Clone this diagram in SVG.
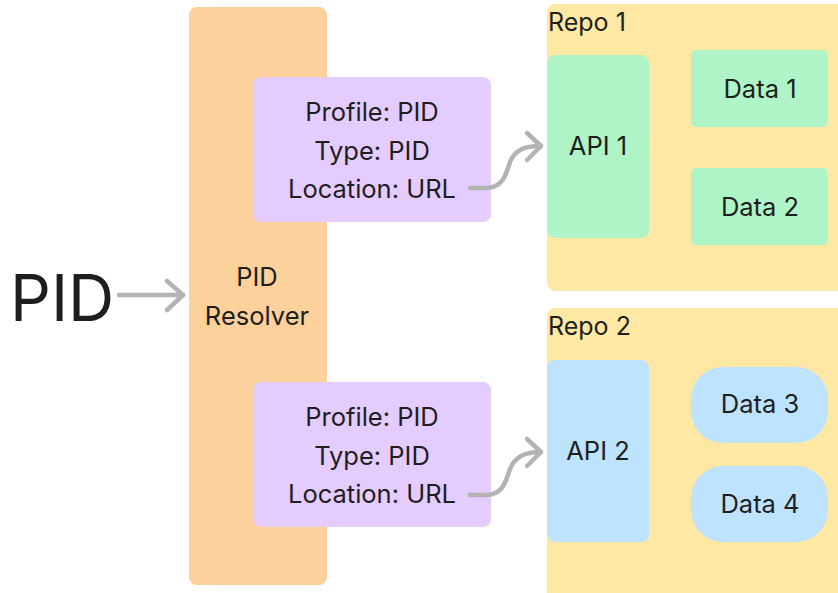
<svg xmlns="http://www.w3.org/2000/svg" width="838" height="593" viewBox="0 0 838 593">
  <defs>
    <style>
      text { font-family: Inter, "Noto Sans", "Liberation Sans", sans-serif; fill: #1e1e1e; }
      .lbl { font-size: 25.5px; text-anchor: middle; }
      .repo-title { font-size: 25px; }
      .big { font-size: 64px; }
      .repo { fill: #ffe8a3; }
      .resolver { fill: #fcd19c; }
      .record { fill: #e4ccff; }
      .green { fill: #aff4c6; }
      .blue { fill: #bde3ff; }
      .conn { fill: none; stroke: #b3b3b3; stroke-width: 4.5; stroke-linecap: round; stroke-linejoin: round; }
    </style>
  </defs>
  <rect width="838" height="593" fill="#ffffff"/>

  <g id="pid-input">
    <text class="big" x="10" y="321">PID</text>
  </g>

  <g id="resolver">
    <rect class="resolver" x="189" y="7" width="138" height="578" rx="8"/>
    <text class="lbl" x="257" y="286">PID</text>
    <text class="lbl" x="257" y="325">Resolver</text>
  </g>

  <g id="record-1">
    <rect class="record" x="253" y="77" width="238" height="145" rx="8"/>
    <text class="lbl" x="372" y="121">Profile: PID</text>
    <text class="lbl" x="372" y="160">Type: PID</text>
    <text class="lbl" x="372" y="198">Location: URL</text>
  </g>

  <g id="record-2">
    <rect class="record" x="253" y="382" width="238" height="145" rx="8"/>
    <text class="lbl" x="372" y="426">Profile: PID</text>
    <text class="lbl" x="372" y="465">Type: PID</text>
    <text class="lbl" x="372" y="503">Location: URL</text>
  </g>

  <g id="repo-1">
    <rect class="repo" x="547" y="4" width="300" height="287" rx="8"/>
    <text class="repo-title" x="548" y="31">Repo 1</text>
  </g>
  <g id="api-1">
    <rect class="green" x="547" y="55" width="102" height="183" rx="8"/>
    <text class="lbl" x="598" y="155">API 1</text>
  </g>
  <g id="data-1">
    <rect class="green" x="691" y="50" width="137" height="77" rx="5"/>
    <text class="lbl" x="760" y="98">Data 1</text>
  </g>
  <g id="data-2">
    <rect class="green" x="691" y="168" width="137" height="77" rx="5"/>
    <text class="lbl" x="760" y="216">Data 2</text>
  </g>

  <g id="repo-2">
    <rect class="repo" x="547" y="308" width="300" height="295" rx="8"/>
    <text class="repo-title" x="548" y="335">Repo 2</text>
  </g>
  <g id="api-2">
    <rect class="blue" x="547" y="360" width="102" height="182" rx="8"/>
    <text class="lbl" x="598" y="460">API 2</text>
  </g>
  <g id="data-3">
    <rect class="blue" x="691" y="367" width="137" height="76" rx="32"/>
    <text class="lbl" x="760" y="413">Data 3</text>
  </g>
  <g id="data-4">
    <rect class="blue" x="691" y="466" width="137" height="76" rx="32"/>
    <text class="lbl" x="760" y="513">Data 4</text>
  </g>

  <g id="connectors">
    <!-- PID into resolver -->
    <path class="conn" d="M119,295 L183,295"/>
    <path class="conn" d="M167,281 L183,295 L167,310"/>
    <!-- record 1 to API 1 -->
    <path class="conn" d="M470,188 L486,188 C503,188 506,174 510,162 C515,150 524,146 541,146"/>
    <path class="conn" d="M527,133 L541,146 L527,160"/>
    <!-- record 2 to API 2 -->
    <path class="conn" d="M470,495 L486,495 C503,495 506,481 510,469 C515,457 524,452 541,452"/>
    <path class="conn" d="M527,439 L541,452 L527,466"/>
  </g>
</svg>
